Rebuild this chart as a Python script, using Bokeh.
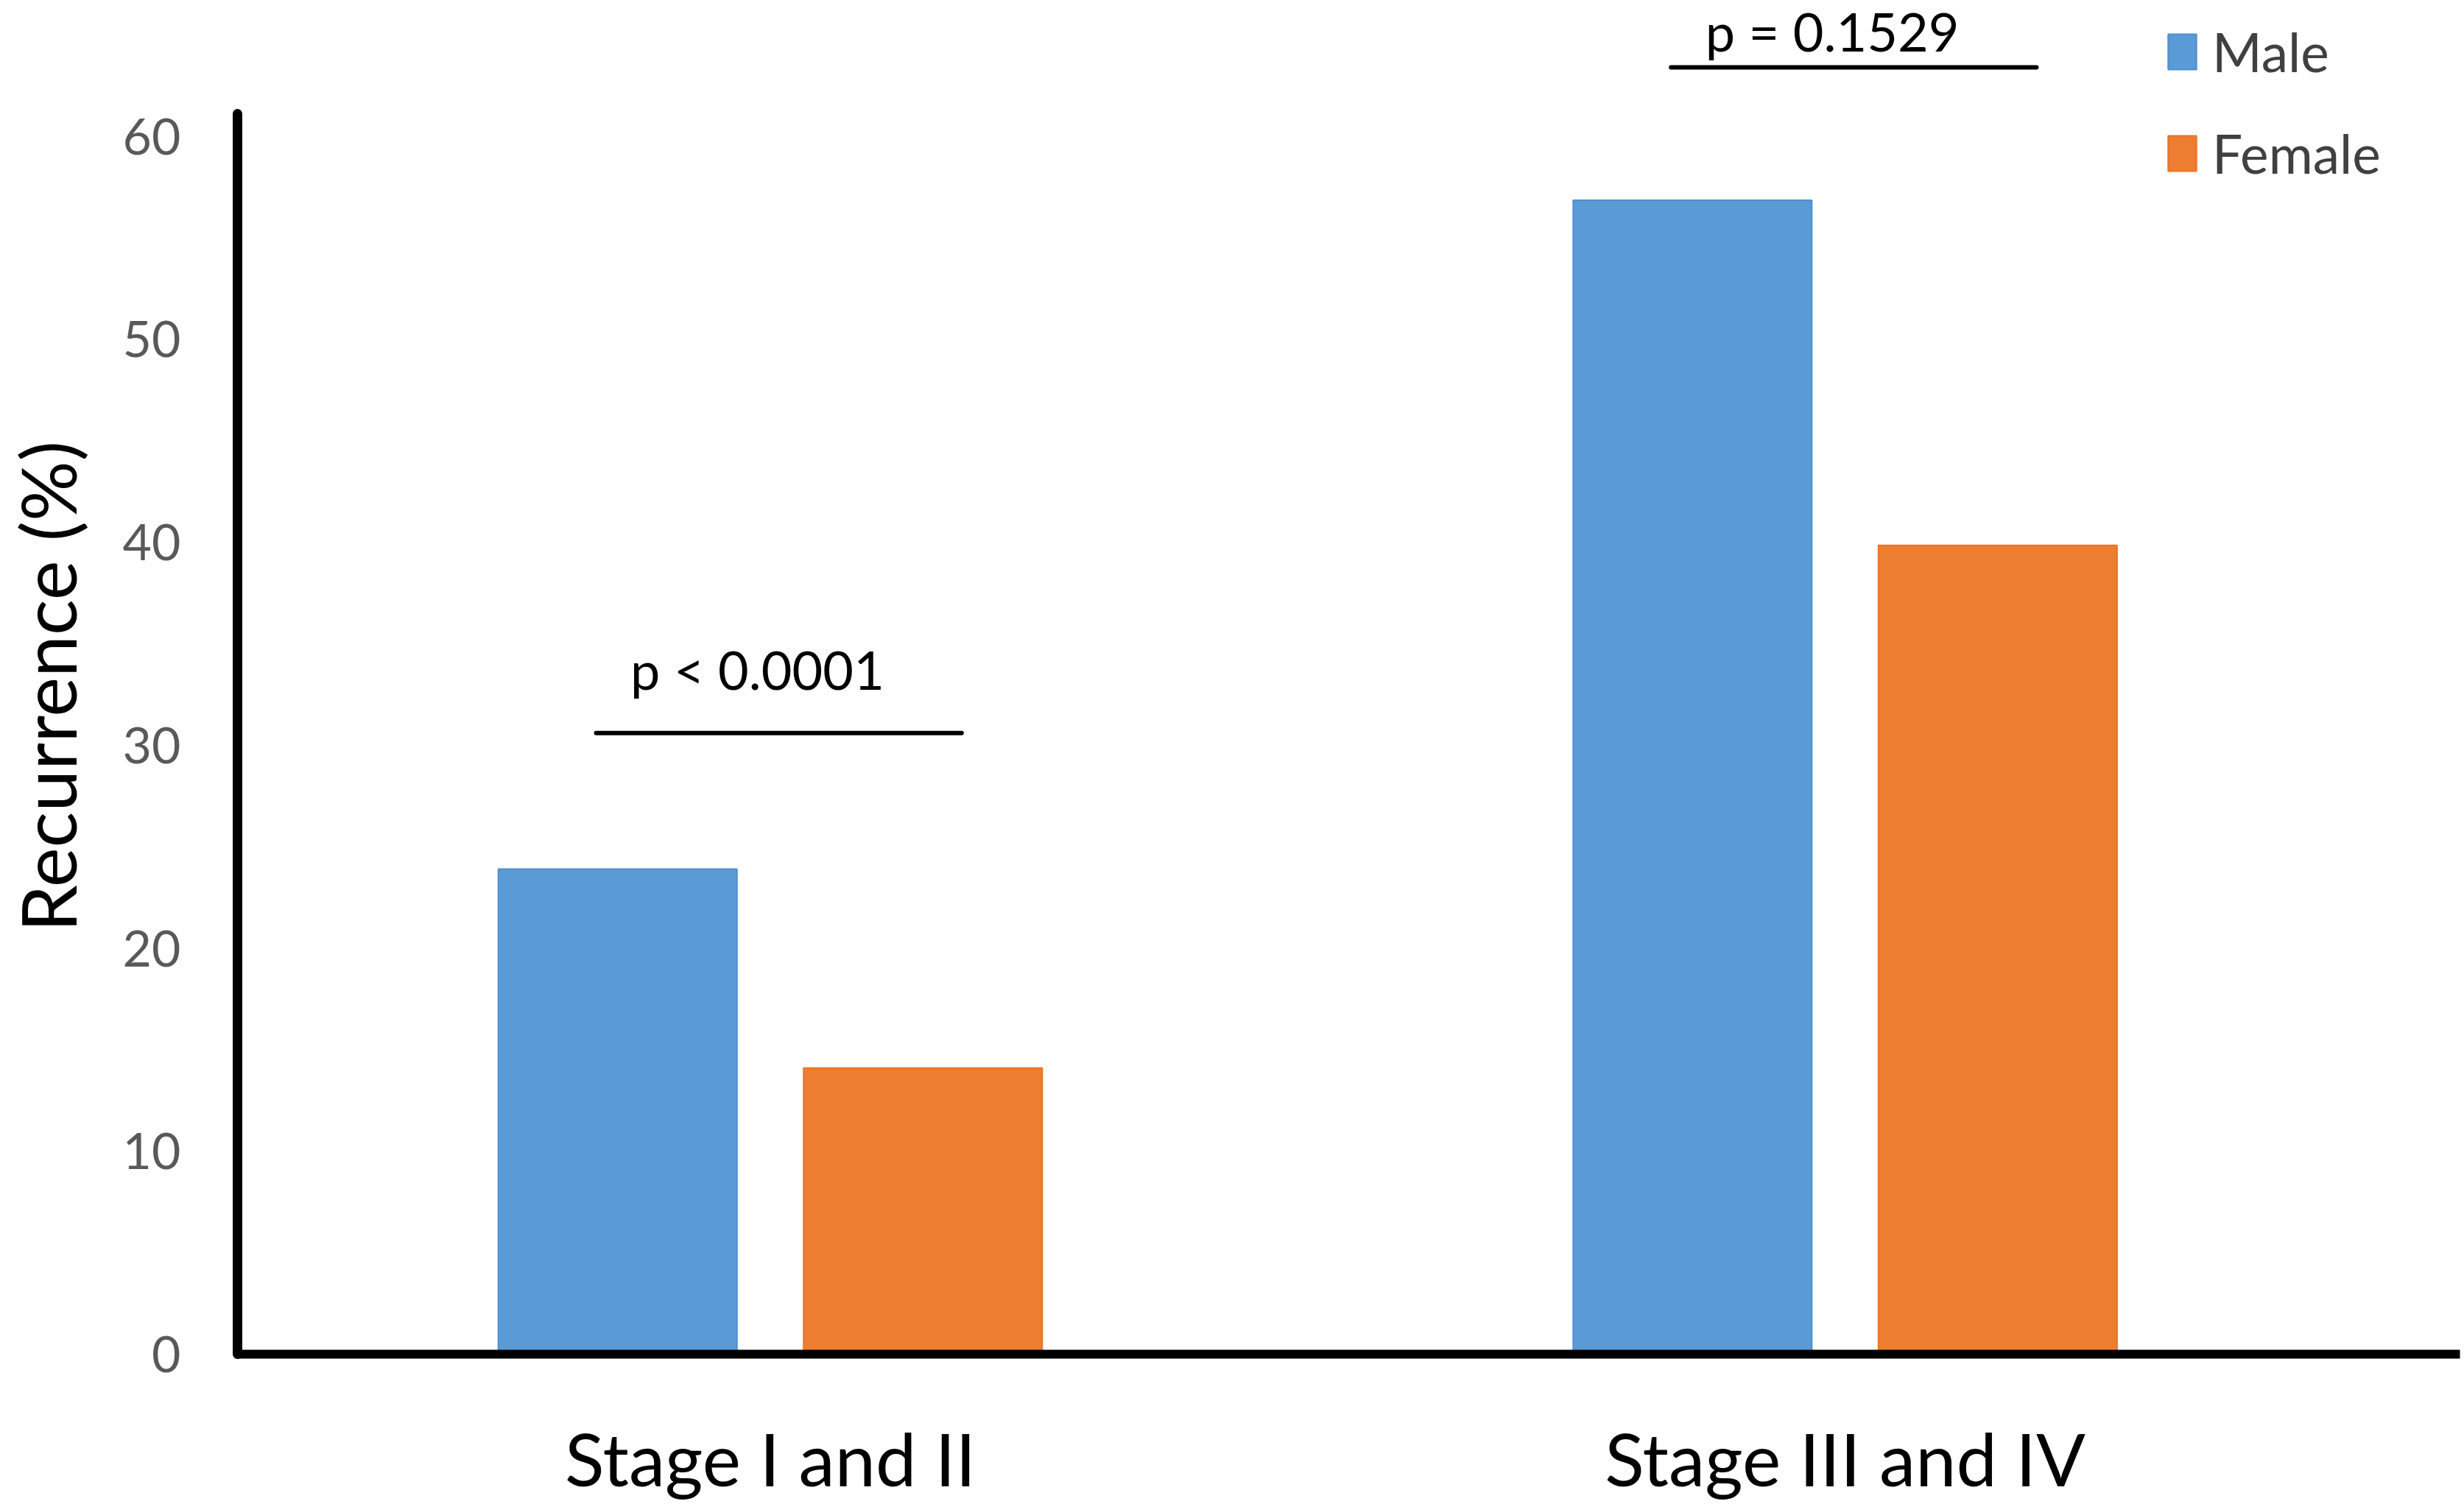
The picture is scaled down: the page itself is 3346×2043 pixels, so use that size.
from bokeh.plotting import figure
from bokeh.models import ColumnDataSource, FixedTicker, Legend, LegendItem, LinearAxis
from bokeh.embed import file_html
from bokeh.resources import INLINE
from bokeh.core.properties import value

# ---- data ----
stages = ["Stage I and II", "Stage III and IV"]
stage_pos = [1, 2]
male = [23.9, 56.85]
female = [14.1, 39.85]
p_labels = ["p < 0.0001", "p = 0.1529"]
p_line_y = [30.6, 63.4]
p_text_y = [33.75, 65.2]
y_ticks = [0, 10, 20, 30, 40, 50, 60]
y_axis_top = 61.1

# ---- style constants ----
BLUE = "#5B9BD5"
ORANGE = "#ED7D31"
FONT = "Lato"
BAR_OFF = 0.142
BAR_W = 0.222
X_START, X_END = 0.2837, 2.5761
Y_START, Y_END = -7.40, 66.70
Y_AXIS_X = 0.5043          # where the value axis stands
X_AXIS_END = 2.572

W, H = 3346, 2043

p = figure(width=W, height=H, output_backend="svg", toolbar_location=None,
           x_range=(X_START, X_END), y_range=(Y_START, Y_END),
           min_border_left=0, min_border_bottom=0,
           min_border_top=0, min_border_right=0)
p.outline_line_color = None
p.xgrid.visible = False
p.ygrid.visible = False
p.background_fill_color = "white"
p.border_fill_color = "white"

male_src = ColumnDataSource(dict(x=[s - BAR_OFF for s in stage_pos], top=male))
female_src = ColumnDataSource(dict(x=[s + BAR_OFF for s in stage_pos], top=female))
r_m = p.vbar(x="x", top="top", bottom=0, width=BAR_W, source=male_src,
             fill_color=BLUE, line_color="#4D8FD0", line_width=2)
r_f = p.vbar(x="x", top="top", bottom=0, width=BAR_W, source=female_src,
             fill_color=ORANGE, line_color="#EA7426", line_width=2)

# significance lines & p-values
seg_src = ColumnDataSource(dict(x0=[s - 0.162 for s in stage_pos],
                                x1=[s + 0.178 for s in stage_pos],
                                y=p_line_y))
p.segment(x0="x0", y0="y", x1="x1", y1="y", source=seg_src,
          line_color="black", line_width=6, line_cap="round")
txt_src = ColumnDataSource(dict(x=[s - 0.012 for s in stage_pos], y=p_text_y, t=p_labels))
p.text(x="x", y="y", text="t", source=txt_src, text_font=value(FONT),
       text_font_size="72px", text_align="center", text_baseline="alphabetic",
       text_color="black")

# category axis (drawn at y = 0)
xa = p.xaxis[0]
xa.fixed_location = 0
xa.bounds = (Y_AXIS_X, X_AXIS_END)
xa.ticker = FixedTicker(ticks=stage_pos)
xa.major_label_overrides = {pos: lab for pos, lab in zip(stage_pos, stages)}
xa.major_label_text_font = FONT
xa.major_label_text_font_size = "99px"
xa.major_label_text_color = "black"
xa.major_label_standoff = 82
xa.major_tick_line_color = None
xa.minor_tick_line_color = None
xa.major_tick_out = 0
xa.major_tick_in = 0
xa.axis_line_width = 12
xa.axis_line_color = "black"

# value axis
ya = p.yaxis[0]
ya.fixed_location = Y_AXIS_X
ya.ticker = FixedTicker(ticks=y_ticks)
ya.bounds = (0, y_axis_top)
ya.major_label_text_font = FONT
ya.major_label_text_font_size = "68px"
ya.major_label_text_color = "#595959"
ya.major_label_standoff = 77
ya.major_tick_line_color = None
ya.minor_tick_line_color = None
ya.major_tick_out = 0
ya.major_tick_in = 0
ya.axis_line_width = 13
ya.axis_line_color = "black"
ya.axis_line_cap = "round"

# axis title (separate, unlined axis so the title can be centred like the reference)
yt = LinearAxis(fixed_location=Y_AXIS_X, ticker=FixedTicker(ticks=[]),
                bounds=(0, 65.8), axis_line_color=None,
                major_tick_line_color=None, minor_tick_line_color=None,
                major_tick_out=0, major_tick_in=0, major_label_standoff=0,
                axis_label="Recurrence (%)", axis_label_text_font=FONT,
                axis_label_text_font_size="102px",
                axis_label_text_font_style="normal",
                axis_label_text_color="black", axis_label_standoff=197)
p.add_layout(yt, "left")

legend = Legend(items=[LegendItem(label="Male", renderers=[r_m]),
                       LegendItem(label="Female", renderers=[r_f])],
                location=(2939, 1791), orientation="vertical",
                glyph_width=48, glyph_height=60, label_standoff=17,
                spacing=50, padding=0, margin=0,
                label_text_font=FONT, label_text_font_size="73px",
                label_text_color="#404040",
                border_line_color=None, background_fill_alpha=0)
p.add_layout(legend)

open("out.html", "w").write(file_html(p, INLINE))
